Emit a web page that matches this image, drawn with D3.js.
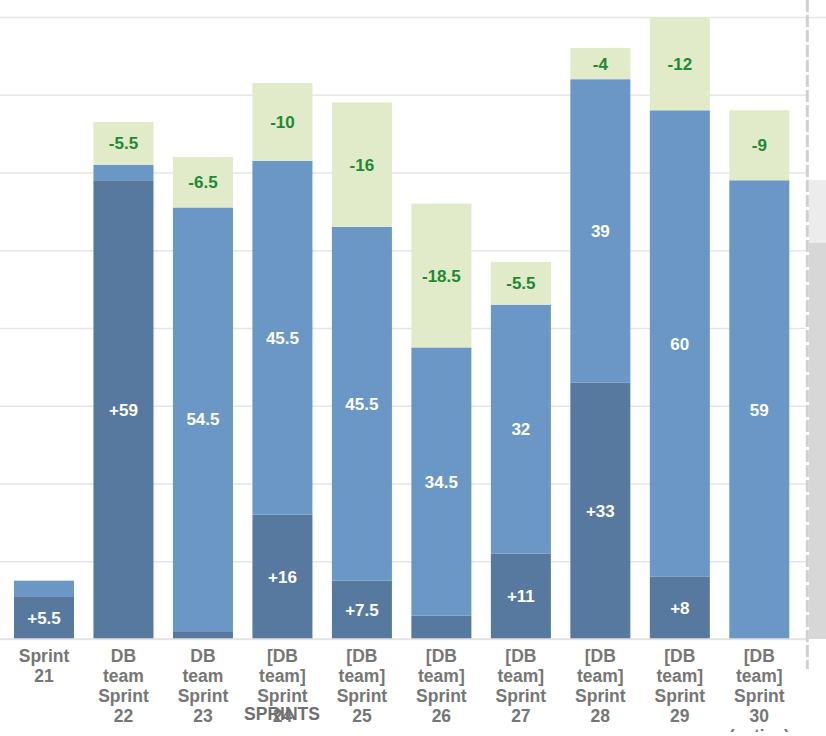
<!DOCTYPE html>
<html>
<head>
<meta charset="utf-8">
<script src="https://cdn.jsdelivr.net/npm/d3@7"></script>
<style>
  html, body { margin: 0; padding: 0; background: #fff; overflow: hidden; }
  svg { display: block; font-family: "Liberation Sans", Arial, sans-serif; }
</style>
</head>
<body>
<svg id="chart" width="826" height="736"></svg>
<script>
// ---- data ----
const categories = [
  "Sprint 21",
  "DB team Sprint 22",
  "DB team Sprint 23",
  "[DB team] Sprint 24",
  "[DB team] Sprint 25",
  "[DB team] Sprint 26",
  "[DB team] Sprint 27",
  "[DB team] Sprint 28",
  "[DB team] Sprint 29",
  "[DB team] Sprint 30 (active)"
];
const added     = [5.5, 59, 1, 16, 7.5, 3, 11, 33, 8, 0];
const committed = [2, 2, 54.5, 45.5, 45.5, 34.5, 32, 39, 60, 59];
const removed   = [0, 5.5, 6.5, 10, 16, 18.5, 5.5, 4, 12, 9];
const yTicks    = [0, 10, 20, 30, 40, 50, 60, 70, 80];
const axisTitle = "SPRINTS";

// ---- layout ----
const svg = d3.select("#chart");
const x = d3.scaleBand().domain(categories).range([4.25, 799.05])
  .paddingInner(0.245).paddingOuter(0.1225);
const y = d3.scaleLinear().domain([0, 80]).range([639, 17]);

svg.append("defs").append("clipPath").attr("id", "labelClip")
  .append("rect").attr("x", 0).attr("y", 640).attr("width", 806).attr("height", 92);

// scrollbar-like gray region at the right
svg.append("rect").attr("x", 809).attr("y", 180).attr("width", 17).attr("height", 63).attr("fill", "#ececec");
svg.append("rect").attr("x", 809).attr("y", 243).attr("width", 17).attr("height", 396).attr("fill", "#d7d7d7");

// gridlines
const grid = d3.axisLeft(y).tickValues(yTicks).tickSize(-806).tickFormat("");
const gg = svg.append("g").call(grid);
gg.select(".domain").remove();
gg.selectAll(".tick line").attr("stroke", "#e6e6e6").attr("stroke-width", 1.5)
  .attr("x1", 0).attr("x2", d => d === 80 ? 826 : 806);

// stacked segments
const rows = categories.map((c, i) => {
  const a = added[i], b = committed[i], r = removed[i];
  return [
    { c, key: "added", v: a, y0: 0, y1: a, label: "+" + a },
    { c, key: "committed", v: b, y0: a, y1: a + b, label: "" + b },
    { c, key: "removed", v: r, y0: a + b, y1: a + b + r, label: "-" + r }
  ];
}).flat().filter(d => d.v > 0);

const fill = { added: "#57799f", committed: "#6a97c5", removed: "#e1eac9" };
const textColor = { added: "#ffffff", committed: "#ffffff", removed: "#1b8b33" };

svg.append("g").selectAll("rect").data(rows).join("rect")
  .attr("x", d => x(d.c))
  .attr("width", x.bandwidth())
  .attr("y", d => y(d.y1))
  .attr("height", d => y(d.y0) - y(d.y1))
  .attr("fill", d => fill[d.key]);

svg.append("g").selectAll("text").data(rows.filter(d => y(d.y0) - y(d.y1) >= 25)).join("text")
  .attr("x", d => x(d.c) + x.bandwidth() / 2)
  .attr("y", d => (y(d.y0) + y(d.y1)) / 2)
  .attr("dy", "0.36em")
  .attr("text-anchor", "middle")
  .attr("font-weight", "bold")
  .attr("font-size", 17)
  .attr("fill", d => textColor[d.key])
  .text(d => d.label);

// baseline
svg.append("line").attr("x1", 0).attr("x2", 808).attr("y1", y(0)).attr("y2", y(0))
  .attr("stroke", "#e2e2e2").attr("stroke-width", 1.5);

// x axis labels
const xa = svg.append("g").attr("clip-path", "url(#labelClip)");
categories.forEach(c => {
  const cx = x(c) + x.bandwidth() / 2;
  const t = xa.append("text")
    .attr("x", cx)
    .attr("y", 662)
    .attr("text-anchor", "middle")
    .attr("font-weight", "bold")
    .attr("font-size", 17.5)
    .attr("fill", "#767676");
  c.split(" ").forEach((w, k) => {
    t.append("tspan").attr("x", cx).attr("y", 662 + k * 20).text(w);
  });
});

// axis title
svg.append("text").attr("x", 282).attr("y", 719.5)
  .attr("text-anchor", "middle").attr("font-weight", "bold").attr("font-size", 17.5)
  .attr("fill", "#6f6f6f").text(axisTitle);

// dashed divider
svg.append("line").attr("x1", 807.3).attr("x2", 807.3).attr("y1", 0).attr("y2", 669)
  .attr("stroke", "#d0d0d0").attr("stroke-width", 3).attr("stroke-dasharray", "12,3");
</script>
</body>
</html>
